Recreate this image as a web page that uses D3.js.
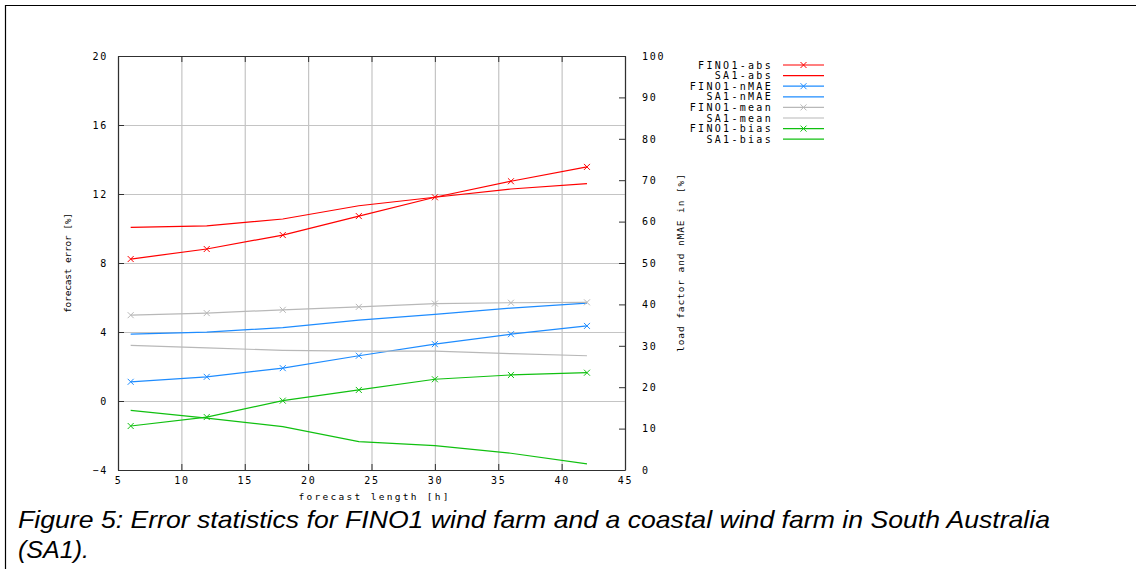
<!DOCTYPE html>
<html>
<head>
<meta charset="utf-8">
<script src="https://cdn.jsdelivr.net/npm/d3@7"></script>
<style>
  body { margin: 0; background: #fff; }
  .tick text, .lbl { font-family: "DejaVu Sans Mono", monospace; fill: #000; }
</style>
</head>
<body>
<div id="chart"></div>
<script>
// forecast lengths [h]
var hours = [6, 12, 18, 24, 30, 36, 42];

// left axis: forecast error [%]
var fino1Abs = [8.23, 8.81, 9.62, 10.72, 11.81, 12.74, 13.57];
var sa1Abs = [10.07, 10.15, 10.55, 11.32, 11.81, 12.29, 12.6];
var fino1Bias = [-1.45, -0.93, 0.02, 0.64, 1.26, 1.51, 1.64];
var sa1Bias = [-0.54, -0.99, -1.49, -2.36, -2.59, -3.03, -3.65];

// right axis: load factor and nMAE [%]
var fino1NMAE = [21.3, 22.5, 24.6, 27.6, 30.4, 32.8, 34.8];
var sa1NMAE = [32.8, 33.3, 34.4, 36.2, 37.6, 39.1, 40.3];
var fino1Mean = [37.4, 37.9, 38.7, 39.4, 40.2, 40.4, 40.5];
var sa1Mean = [30.1, 29.5, 28.9, 28.7, 28.7, 28.1, 27.6];

var xTicks = [5, 10, 15, 20, 25, 30, 35, 40, 45];
var yTicks = [-4, 0, 4, 8, 12, 16, 20];
var y2Ticks = [0, 10, 20, 30, 40, 50, 60, 70, 80, 90, 100];

var series = [
    { name: "FINO1-abs", values: fino1Abs, axis: "y", color: "#ff0000", marker: true },
    { name: "SA1-abs", values: sa1Abs, axis: "y", color: "#ff0000", marker: false },
    { name: "FINO1-nMAE", values: fino1NMAE, axis: "y2", color: "#1e8cff", marker: true },
    { name: "SA1-nMAE", values: sa1NMAE, axis: "y2", color: "#1e8cff", marker: false },
    { name: "FINO1-mean", values: fino1Mean, axis: "y2", color: "#b8b8b8", marker: true },
    { name: "SA1-mean", values: sa1Mean, axis: "y2", color: "#b8b8b8", marker: false },
    { name: "FINO1-bias", values: fino1Bias, axis: "y", color: "#10c010", marker: true },
    { name: "SA1-bias", values: sa1Bias, axis: "y", color: "#10c010", marker: false }
];

var W = 1136, H = 569;
var plot = { left: 118, right: 625, top: 56, bottom: 470 };

var svg = d3.select("#chart").append("svg")
    .attr("width", W).attr("height", H);

// page frame
svg.append("path")
    .attr("d", "M5.5,569 V5.5 H1136")
    .attr("fill", "none").attr("stroke", "#000").attr("stroke-width", 1.2);

var x = d3.scaleLinear().domain([5, 45]).range([plot.left, plot.right]);
var y = d3.scaleLinear().domain([-4, 20]).range([plot.bottom, plot.top]);
var y2 = d3.scaleLinear().domain([0, 100]).range([plot.bottom, plot.top]);
var pw = plot.right - plot.left, ph = plot.bottom - plot.top;

// grid
var grid = svg.append("g").attr("class", "grid");
grid.append("g")
    .attr("transform", "translate(0," + plot.bottom + ")")
    .call(d3.axisBottom(x).tickValues(xTicks).tickSize(-ph).tickFormat(""));
grid.append("g")
    .attr("transform", "translate(" + plot.left + ",0)")
    .call(d3.axisLeft(y).tickValues(yTicks).tickSize(-pw).tickFormat(""));
grid.selectAll("path").remove();
grid.selectAll("line").attr("stroke", "#c4c4c4").attr("stroke-width", 1.2);

// axes (ticks pointing inward)
var gx = svg.append("g")
    .attr("transform", "translate(0," + plot.bottom + ")")
    .call(d3.axisBottom(x).tickValues(xTicks).tickSizeInner(-6).tickSizeOuter(0).tickPadding(7));
var gxTop = svg.append("g")
    .attr("transform", "translate(0," + plot.top + ")")
    .call(d3.axisTop(x).tickValues(xTicks).tickSizeInner(-6).tickSizeOuter(0).tickFormat(""));
var gy = svg.append("g")
    .attr("transform", "translate(" + plot.left + ",0)")
    .call(d3.axisLeft(y).tickValues(yTicks).tickSizeInner(-6).tickSizeOuter(0).tickPadding(10));
var gy2 = svg.append("g")
    .attr("transform", "translate(" + plot.right + ",0)")
    .call(d3.axisRight(y2).tickValues(y2Ticks).tickSizeInner(-6).tickSizeOuter(0).tickPadding(17));

[gx, gxTop, gy, gy2].forEach(function (g) {
    g.select(".domain").attr("stroke", "#303030").attr("stroke-width", 1.2);
    g.selectAll(".tick line").attr("stroke", "#303030");
    g.selectAll(".tick text")
        .style("font-size", "10px")
        .style("letter-spacing", "1.7px");
});
gy2.selectAll(".tick text").attr("dy", "0.32em");

// axis titles
svg.append("text").attr("class", "lbl")
    .attr("x", (plot.left + plot.right) / 2 + 2).attr("y", 500)
    .attr("text-anchor", "middle")
    .style("font-size", "9.5px")
    .attr("textLength", 150).attr("lengthAdjust", "spacing")
    .text("forecast length [h]");
svg.append("text").attr("class", "lbl")
    .attr("transform", "translate(71," + (plot.top + ph / 2) + ") rotate(-90)")
    .attr("text-anchor", "middle")
    .style("font-size", "9.5px")
    .attr("textLength", 100).attr("lengthAdjust", "spacing")
    .text("forecast error [%]");
svg.append("text").attr("class", "lbl")
    .attr("transform", "translate(684," + (plot.top + ph / 2) + ") rotate(-90)")
    .attr("text-anchor", "middle")
    .style("font-size", "9.5px")
    .attr("textLength", 178).attr("lengthAdjust", "spacing")
    .text("load factor and nMAE in [%]");

// x marker
function cross(cx, cy) {
    var s = 3;
    return "M" + (cx - s) + "," + (cy - s) + "L" + (cx + s) + "," + (cy + s) +
        "M" + (cx - s) + "," + (cy + s) + "L" + (cx + s) + "," + (cy - s);
}

var lines = svg.append("g");
series.forEach(function (s) {
    var ys = s.axis === "y" ? y : y2;
    var line = d3.line()
        .x(function (d, i) { return x(hours[i]); })
        .y(function (d) { return ys(d); });
    lines.append("path")
        .attr("d", line(s.values))
        .attr("fill", "none")
        .attr("stroke", s.color)
        .attr("stroke-width", 1.2);
    if (s.marker) {
        lines.selectAll(null)
            .data(s.values)
            .enter().append("path")
            .attr("d", function (d, i) { return cross(x(hours[i]), ys(d)); })
            .attr("stroke", s.color)
            .attr("stroke-width", 1);
    }
});

// legend
var legend = svg.append("g");
series.forEach(function (s, i) {
    var ly = 65 + i * 10.6;
    legend.append("text").attr("class", "lbl")
        .attr("x", 773).attr("y", ly).attr("dy", "0.35em")
        .attr("text-anchor", "end")
        .style("font-size", "10px")
        .style("letter-spacing", "2.3px")
        .text(s.name);
    legend.append("line")
        .attr("x1", 783).attr("x2", 824).attr("y1", ly).attr("y2", ly)
        .attr("stroke", s.color).attr("stroke-width", 1.2);
    if (s.marker) {
        legend.append("path").attr("d", cross(803.5, ly))
            .attr("stroke", s.color).attr("stroke-width", 1);
    }
});

// caption
var cap = svg.append("text")
    .style("font-family", "'Liberation Sans', Arial, sans-serif")
    .style("font-style", "italic")
    .style("font-size", "24px")
    .attr("fill", "#000");
cap.append("tspan").attr("x", 18).attr("y", 528)
    .attr("textLength", 1032).attr("lengthAdjust", "spacingAndGlyphs")
    .text("Figure 5: Error statistics for FINO1 wind farm and a coastal wind farm in South Australia");
cap.append("tspan").attr("x", 18).attr("y", 558)
    .attr("textLength", 71).attr("lengthAdjust", "spacingAndGlyphs")
    .text("(SA1).");
</script>
</body>
</html>
